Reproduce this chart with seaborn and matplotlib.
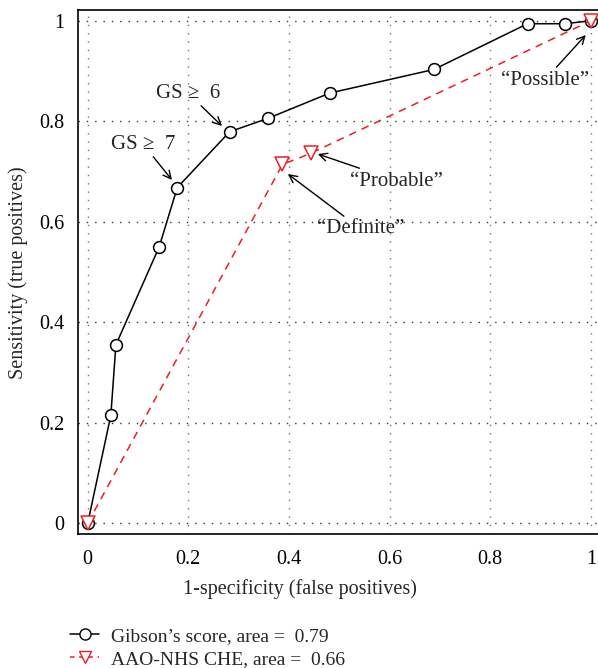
import matplotlib
matplotlib.use("Agg")
import matplotlib.pyplot as plt
import seaborn as sns
import pandas as pd
from matplotlib.lines import Line2D

# Data
gibson_fpr = [0.0, 0.046, 0.056, 0.142, 0.178, 0.282, 0.359, 0.481, 0.688, 0.874, 0.949, 1.0]
gibson_tpr = [0.0, 0.215, 0.355, 0.550, 0.668, 0.779, 0.806, 0.856, 0.903, 0.994, 0.994, 1.0]
aao_fpr = [0.0, 0.387, 0.443, 1.0]
aao_tpr = [0.0, 0.714, 0.736, 1.0]
ticks = [0, 0.2, 0.4, 0.6, 0.8, 1]
tick_labels = ["0", "0.2", "0.4", "0.6", "0.8", "1"]
legend_labels = ["Gibson’s score, area =  0.79", "AAO-NHS CHE, area =  0.66"]

sns.set_style("white")
plt.rcParams['font.family'] = ['Liberation Serif', 'DejaVu Serif']

fig = plt.figure(figsize=(5.98, 6.68), dpi=100)
ax = fig.add_axes([78.3/598, (668-534.3)/668, 1-78.3/598, (534.3-10.3)/668])

for t in ticks:
    ax.axvline(t, color='0.45', lw=1.0, ls=(0, (1, 5)), zorder=0)
    ax.axhline(t, color='0.2', lw=1.0, ls=(0, (1, 5)), zorder=0)

df_g = pd.DataFrame({"fpr": gibson_fpr, "tpr": gibson_tpr})
df_a = pd.DataFrame({"fpr": aao_fpr, "tpr": aao_tpr})

sns.lineplot(data=df_g, x="fpr", y="tpr", ax=ax, sort=False, estimator=None,
             color='black', lw=1.1, marker='o', markersize=8.5,
             markerfacecolor='white', markeredgecolor='black', markeredgewidth=1.1, zorder=3)
sns.lineplot(data=df_a, x="fpr", y="tpr", ax=ax, sort=False, estimator=None,
             color='#ee1c25', lw=1.1, dashes=False, marker='v', markersize=9.5,
             markerfacecolor='white', markeredgecolor='#ee1c25', markeredgewidth=1.1, zorder=4)
ax.lines[-1].set_linestyle((0, (5, 4)))

ax.set_xlim(-0.0187, 1.014)
ax.set_ylim(-0.0219, 1.0207)
ax.set_xticks(ticks)
ax.set_xticklabels(tick_labels)
ax.set_yticks(ticks)
ax.set_yticklabels(tick_labels)
ax.tick_params(axis='both', direction='out', length=7, width=1.0, labelsize=14.5, colors='black', pad=4)
ax.tick_params(axis='y', pad=3)
for s in ['left', 'bottom', 'top']:
    ax.spines[s].set_color('black')
    ax.spines[s].set_linewidth(1.2)
ax.spines['right'].set_visible(False)

ax.set_xlabel("1-specificity (false positives)", fontsize=14.5, labelpad=8)
ax.xaxis.set_label_coords((300 - 78.3) / (598 - 78.3), -0.085)
ax.set_ylabel("Sensitivity (true positives)", fontsize=14.5, labelpad=8)

def px(x, y):
    return ((x - 87.7) / 503.5, (523.3 - y) / 502.6)

ann_kw = dict(fontsize=15, ha='center', va='center',
              arrowprops=dict(arrowstyle='->', color='black', lw=1.0, mutation_scale=14,
                              shrinkA=0, shrinkB=0))
ax.annotate("GS ≥  7", xy=px(172, 180), xytext=px(143, 144), **ann_kw)
ax.annotate("GS ≥  6", xy=px(222, 126), xytext=px(188, 93), **ann_kw)
ax.annotate("“Definite”", xy=px(288, 174), xytext=px(361, 229), **ann_kw)
ax.annotate("“Probable”", xy=px(318, 154), xytext=px(397, 181), **ann_kw)
ax.annotate("“Possible”", xy=px(586, 35), xytext=px(545, 80), **ann_kw)

handles = [Line2D([0], [0], color='black', lw=1.1, marker='o', markersize=8,
                  markerfacecolor='white', markeredgecolor='black'),
           Line2D([0], [0], color='#ee1c25', lw=1.1, ls=(0, (3, 3)), marker='v', markersize=9,
                  markerfacecolor='white', markeredgecolor='#ee1c25')]
fig.legend(handles, legend_labels, loc='upper left', bbox_to_anchor=(70/598, 1-627/668),
           frameon=False, fontsize=14, handlelength=1.5, handletextpad=0.6, labelspacing=0.3,
           borderaxespad=0, borderpad=0)

fig.savefig("out.png", dpi=100)
